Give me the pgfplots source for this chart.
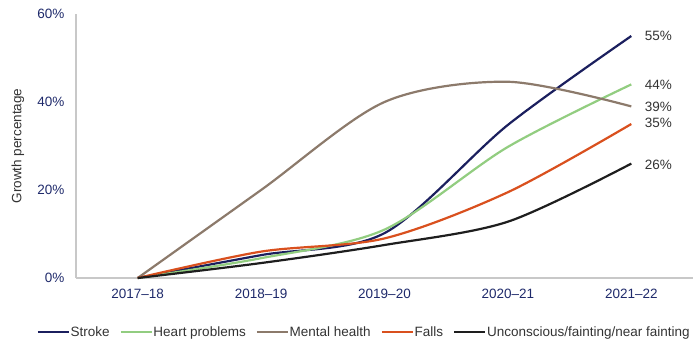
\documentclass[border=0pt]{standalone}
\usepackage{fontspec}
\setmainfont{Liberation Sans}
\usepackage{pgfplots}
\pgfplotsset{compat=1.18}
\definecolor{navy}{HTML}{1B1F5E}
\definecolor{heart}{HTML}{92CD80}
\definecolor{mental}{HTML}{8C7A6B}
\definecolor{falls}{HTML}{D9501E}
\definecolor{uncon}{HTML}{1E1E1E}
\definecolor{ticknavy}{HTML}{1F2A6B}
\definecolor{axgray}{HTML}{C8C8C8}
\definecolor{lblgray}{HTML}{333333}
\begin{document}
\begin{tikzpicture}[x=1pt,y=1pt]
\useasboundingbox (-76,-73) rectangle (624,278);
\begin{axis}[
  at={(0,0)}, anchor=south west,
  scale only axis, width=617pt, height=264pt,
  xmin=-0.5, xmax=4.5, ymin=0, ymax=60,
  axis lines=left,
  axis line style={-, axgray, line width=1.2pt},
  xtick={0,1,2,3,4},
  xticklabels={2017--18,2018--19,2019--20,2020--21,2021--22},
  ytick={0,20,40,60},
  yticklabels={0\%,20\%,40\%,60\%},
  major tick length=0pt,
  tick label style={font=\fontsize{13.5}{16}\selectfont, text=ticknavy},
  xticklabel style={yshift=-8pt},
  yticklabel style={xshift=-8pt},
  ylabel={Growth percentage},
  ylabel style={at={(axis description cs:-0.094,0.5)}, anchor=center, font=\fontsize{13.5}{16}\selectfont, text=lblgray},
  legend columns=5,
  legend style={at={(axis description cs:0.466,-0.205)}, anchor=center, draw=none, fill=none,
    font=\fontsize{13.5}{16}\selectfont, text=lblgray,
    nodes={inner sep=0.6pt},
    /tikz/every odd column/.append style={column sep=0pt},
    /tikz/every even column/.append style={column sep=9.5pt}},
  legend image code/.code={\draw[#1] (0pt,0pt) -- (31pt,0pt);},
  every axis plot/.append style={line width=2.2pt, smooth, tension=0.5},
  clip=false,
]
\addplot[navy] coordinates {(0,0) (1,5.2) (2,10.2) (3,34.8) (4,55)};
\addlegendentry{Stroke}
\addplot[heart] coordinates {(0,0) (1,4.5) (2,11) (3,29.8) (4,44)};
\addlegendentry{Heart problems}
\addplot[mental] coordinates {(0,0) (1,20) (2,40) (3,44.6) (4,39)};
\addlegendentry{Mental health}
\addplot[falls] coordinates {(0,0) (1,6) (2,9) (3,19.5) (4,35)};
\addlegendentry{Falls}
\addplot[uncon] coordinates {(0,0) (1,3.4) (2,7.5) (3,12.8) (4,26)};
\addlegendentry{Unconscious/fainting/near fainting}
\node[anchor=west, text=lblgray, font=\fontsize{13.5}{16}\selectfont] at (axis cs:4,55) [xshift=10pt] {55\%};
\node[anchor=west, text=lblgray, font=\fontsize{13.5}{16}\selectfont] at (axis cs:4,44) [xshift=10pt] {44\%};
\node[anchor=west, text=lblgray, font=\fontsize{13.5}{16}\selectfont] at (axis cs:4,38.8) [xshift=10pt] {39\%};
\node[anchor=west, text=lblgray, font=\fontsize{13.5}{16}\selectfont] at (axis cs:4,35.3) [xshift=10pt] {35\%};
\node[anchor=west, text=lblgray, font=\fontsize{13.5}{16}\selectfont] at (axis cs:4,25.8) [xshift=10pt] {26\%};
\end{axis}
\end{tikzpicture}
\end{document}
